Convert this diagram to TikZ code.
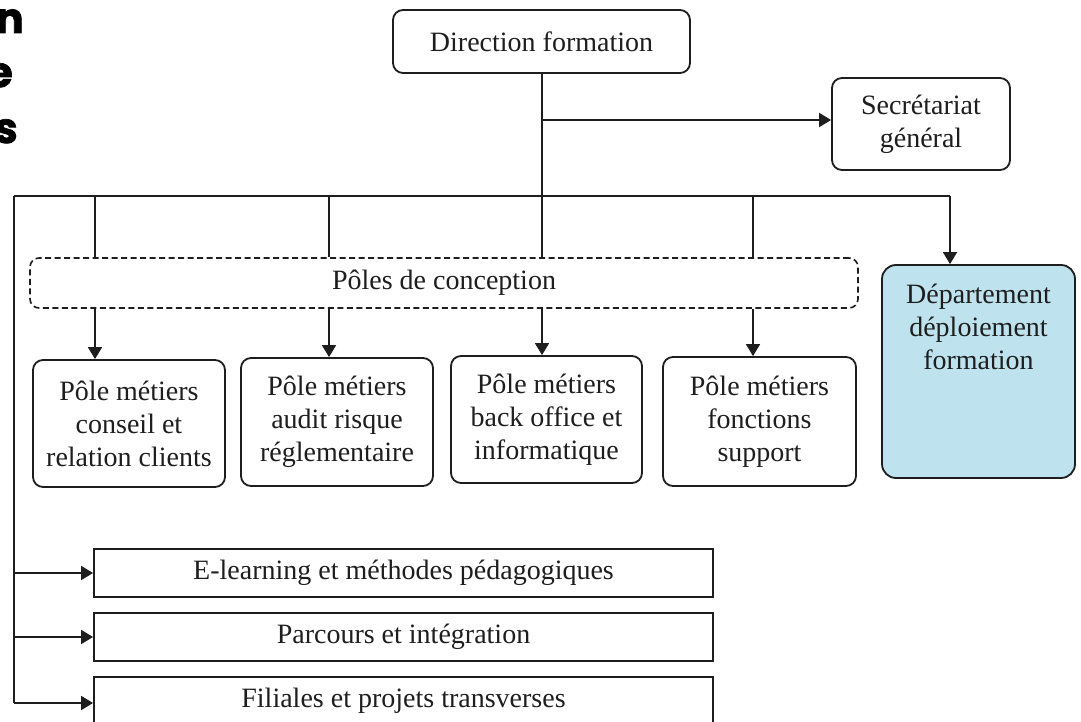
\documentclass[tikz,border=0pt]{standalone}
\usepackage{fontspec}
\setmainfont{Liberation Serif}
\newfontfamily\headfont{Poppins}[BoldFeatures={FakeBold=1.6}]
\usetikzlibrary{arrows.meta,calc}
\definecolor{ink}{HTML}{1E1E1E}
\definecolor{deptblue}{HTML}{BEE3EE}
\begin{document}
\begin{tikzpicture}[x=1pt,y=-1pt,
  every node/.style={font=\fontsize{28}{33}\selectfont, text=ink, inner sep=0pt, align=center},
  rbox/.style={draw=ink, line width=1.8pt, rounded corners=10pt, fill=white},
  sbox/.style={draw=ink, line width=1.8pt, fill=white},
  dbox/.style={draw=ink, line width=1.6pt, rounded corners=9pt, dash pattern=on 6pt off 3.5pt},
  link/.style={draw=ink, line width=1.6pt},
  arr/.style={link, -{Triangle[length=12pt,width=14pt]}},
  head/.style={font=\headfont\bfseries\fontsize{42}{42}\selectfont, text=black, anchor=base east}
]
\clip (0,0) rectangle (1081,722);
\fill[white] (0,0) rectangle (1081,722);

% clipped heading letters
\node[head] (h1) at (24,33) {n};
\node[head] (h2) at (13,87) {e};
\node[head] (h3) at (18,143) {s};

% boxes
\node[rbox, minimum width=297pt, minimum height=63pt] (dir) at (541.5,41.5) {Direction formation};
\node[rbox, minimum width=178pt, minimum height=92pt] (sec) at (921,124) {Secrétariat\\général};
\node[dbox, minimum width=828pt, minimum height=50pt] (poles) at (444,283) {Pôles de conception};
\node[rbox, minimum width=192pt, minimum height=127pt] (p1) at (129,423.5) {Pôle métiers\\conseil et\\relation clients};
\node[rbox, minimum width=192pt, minimum height=128pt] (p2) at (337,422) {Pôle métiers\\audit risque\\réglementaire};
\node[rbox, minimum width=191pt, minimum height=127pt] (p3) at (546.5,419.5) {Pôle métiers\\back office et\\informatique};
\node[rbox, minimum width=193pt, minimum height=129pt] (p4) at (759.5,421.5) {Pôle métiers\\fonctions\\support};
\node[rbox, fill=deptblue, rounded corners=14pt, minimum width=193pt, minimum height=213pt] (dep) at (978.5,371.5) {};
\node[anchor=north] (deptext) at ($(dep.north)+(0,20)$) {Département\\déploiement\\formation};
\node[sbox, minimum width=619pt, minimum height=48pt] (el) at (403.5,573) {E-learning et méthodes pédagogiques};
\node[sbox, minimum width=619pt, minimum height=48pt] (pa) at (403.5,637) {Parcours et intégration};
\node[sbox, minimum width=619pt, minimum height=48pt] (fi) at (403.5,701) {Filiales et projets transverses};

% bus coordinates
\coordinate (busL) at (14,196);
\coordinate (busR) at (950,196);
\coordinate (busM) at (542,196);
\coordinate (secB) at (542,120);
\coordinate (x1) at (95,196);
\coordinate (x2) at (329,196);
\coordinate (x4) at (753,196);
\coordinate (corner) at (14,703);

% connectors
\path[link] (dir.south -| busM) -- (poles.north -| busM);
\path[arr] (secB) -- (sec.west |- secB);
\path[link] (busL) -- (busR);
\path[arr] (busR) -- (dep.north -| busR);
\path[link] (x1) -- (poles.north -| x1);
\path[link] (x2) -- (poles.north -| x2);
\path[link] (x4) -- (poles.north -| x4);
\path[arr] (poles.south -| x1) -- (p1.north -| x1);
\path[arr] (poles.south -| x2) -- (p2.north -| x2);
\path[arr] (poles.south -| busM) -- (p3.north -| busM);
\path[arr] (poles.south -| x4) -- (p4.north -| x4);
\path[link] (busL) -- (corner);
\path[arr] (el.west -| busL) -- (el.west);
\path[arr] (pa.west -| busL) -- (pa.west);
\path[arr] (corner) -- (fi.west |- corner);
\end{tikzpicture}
\end{document}
